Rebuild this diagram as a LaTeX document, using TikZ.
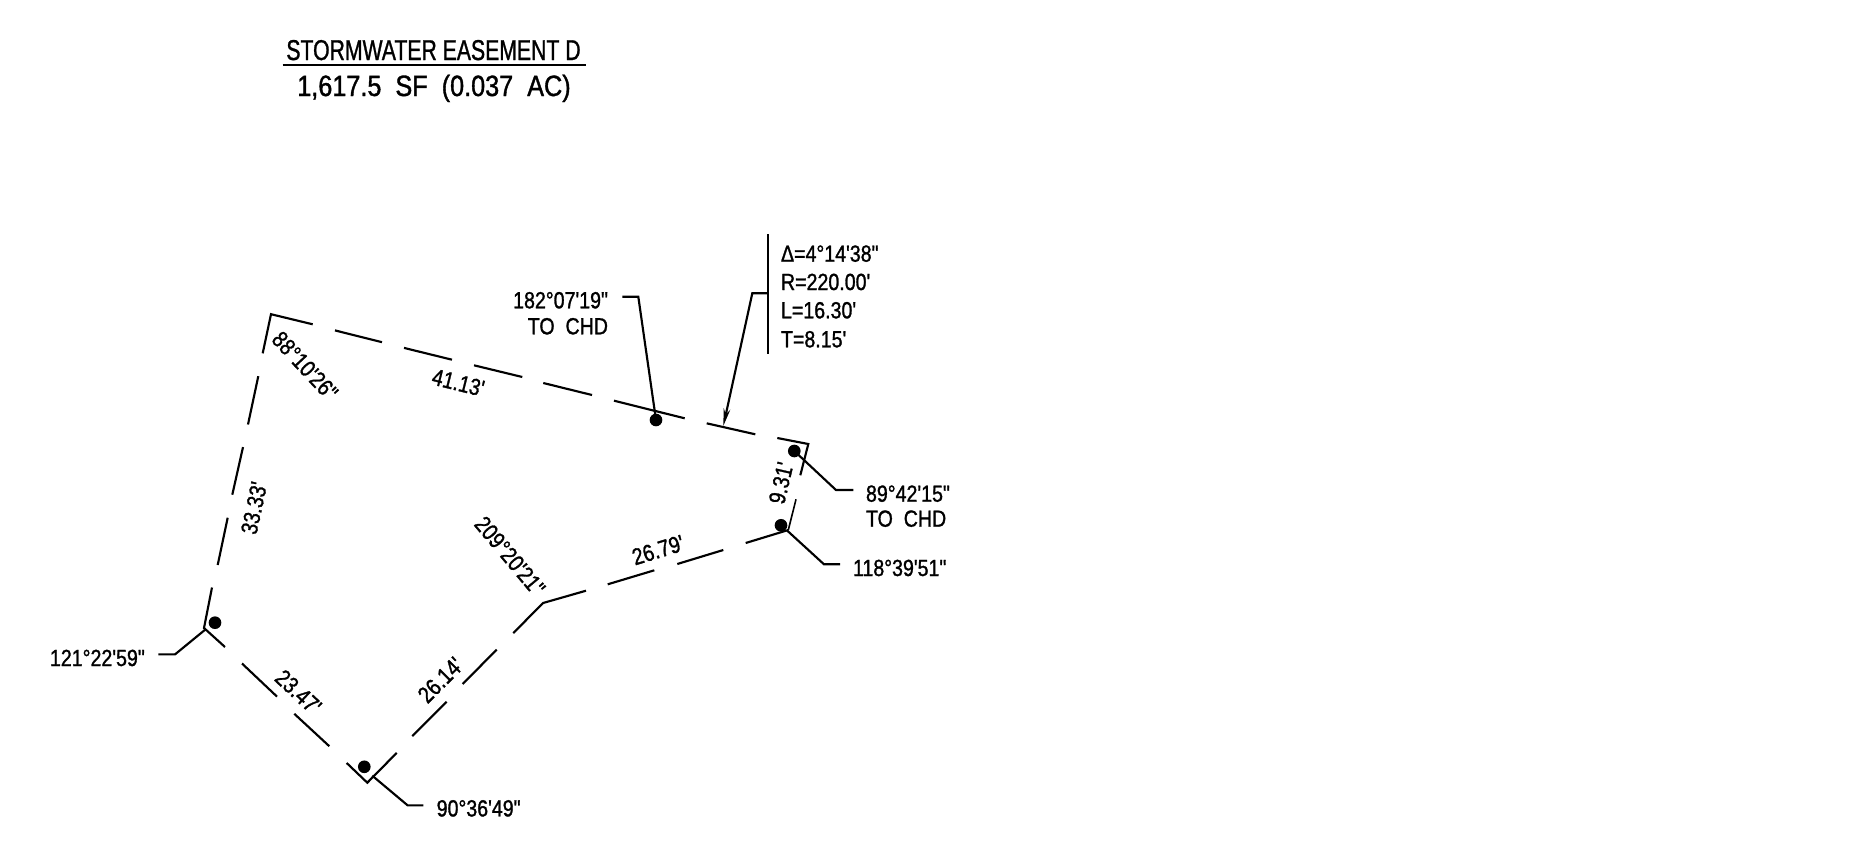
\documentclass[tikz,border=0pt]{standalone}
\usepackage{fontspec}
\usetikzlibrary{arrows.meta}
\newfontfamily\cad[FakeStretch=0.84,FakeBold=1.2]{Liberation Sans}
\newfontfamily\cadt[FakeStretch=0.74,FakeBold=1.0]{Liberation Sans}
\newfontfamily\cadb[FakeStretch=0.86,FakeBold=1.2]{Liberation Sans}
\tikzset{
  px/.style={x=0.75pt,y=-0.75pt},
  ln/.style={line width=1.6pt,black},
  lbl/.style={inner sep=0pt,outer sep=0pt,font=\cad\fontsize{17.5}{20}\selectfont,black},
  lw/.style={lbl,anchor=base west},
  lc/.style={lbl,anchor=center},
  ttl/.style={inner sep=0pt,anchor=base,font=\cadt\fontsize{21.5}{24}\selectfont},
  ttb/.style={inner sep=0pt,anchor=base,font=\cadb\fontsize{22}{24}\selectfont},
  dotn/.style={circle,fill=black,inner sep=0pt,minimum size=9.5pt}
}
\begin{document}
\begin{tikzpicture}[px]
\useasboundingbox (0,0) rectangle (1867,843);
% title
\node[ttl] (title) at (433.5,60) {STORMWATER EASEMENT D};
\node[ttb] (area) at (434,96) {1,617.5\ \ SF\ \ (0.037\ \ AC)};
\draw[line width=1.7pt] (282.7,64.7) -- (585.7,64.7);
% boundary corners
\coordinate (tl) at (271,314.2);
\coordinate (tr) at (808.3,444);
\coordinate (rb) at (788.3,530);
\coordinate (mid) at (543,603);
\coordinate (bt) at (367.3,782.7);
\coordinate (lf) at (204,628);
% top edge
\draw[ln,line join=miter] (262.7,353.3) -- (tl) -- (312.7,324.3);
\draw[ln] (335,330.4) -- (382,342.2);
\draw[ln] (404,347.9) -- (452,359.7);
\draw[ln] (474,365.3) -- (522.3,377);
\draw[ln] (543.3,383) -- (592,395);
\draw[ln] (614,400.7) -- (684.7,418.3);
\draw[ln] (706.7,423.3) -- (755.3,434.3);
\draw[ln,line join=miter] (777.3,438) -- (tr) -- (800.3,475.3);
% right edge / lower right
\draw[ln,line width=1.2pt] (796,499.3) -- (rb);
\draw[ln] (rb) -- (745.7,543);
\draw[ln] (723.3,550) -- (677.3,564);
\draw[ln] (654.3,570.3) -- (607.7,584.3);
\draw[ln,line join=miter] (586,590.7) -- (mid) -- (513.3,633.1);
\draw[ln] (496.7,649.6) -- (462.7,684);
\draw[ln] (446.7,701.7) -- (412.3,736.1);
\draw[ln,line join=miter] (396.7,752.9) -- (bt) -- (346.7,763);
\draw[ln] (329.3,746.2) -- (294.3,713.8);
\draw[ln] (277,696.6) -- (242,663.5);
\draw[ln] (225,647) -- (lf) -- (212,587.5);
\draw[ln] (217.7,565) -- (227.7,517.7);
\draw[ln] (232.3,494.7) -- (243,447.1);
\draw[ln] (248,424.5) -- (258.3,376.2);
% dots
\node[dotn] (d1) at (215,622.7) {};
\node[dotn] (d2) at (364.3,766.8) {};
\node[dotn] (d3) at (656,420) {};
\node[dotn] (d4) at (794.3,451) {};
\node[dotn] (d5) at (781,525.3) {};
% leaders
\coordinate (a1) at (175,654.4); \coordinate (a1e) at (158.3,654.4);
\draw[ln] (lf) ++(2,1) -- (a1) -- (a1e);
\coordinate (a2) at (407.7,805.4); \coordinate (a2e) at (423.3,805.4);
\draw[ln] (bt) ++(5,-7) -- (a2) -- (a2e);
\coordinate (a3) at (638.3,296.7); \coordinate (a3e) at (622.3,296.7);
\draw[ln] (d3.center) -- (a3) -- (a3e);
\coordinate (a4) at (836,490); \coordinate (a4e) at (853.3,490);
\draw[ln] (d4.center) -- (a4) -- (a4e);
\coordinate (a5) at (824,564.3); \coordinate (a5e) at (840,564.3);
\draw[ln] (787.3,530.7) -- (a5) -- (a5e);
% curve leader
\coordinate (v1) at (767.7,234); \coordinate (v2) at (767.7,354);
\coordinate (vb) at (767.7,293.3); \coordinate (vk) at (752.3,293.3);
\coordinate (vt) at (723.3,426);
\draw[ln] (v1) -- (v2);
\draw[ln,-{Stealth[length=13pt,width=5pt]}] (vb) -- (vk) -- (vt);
% labels
\node[lw] (cd) at (781,261.7) {Δ=4°14'38"};
\node[lw] (cr) at (781,290) {R=220.00'};
\node[lw] (cl) at (781,318.3) {L=16.30'};
\node[lw] (ct) at (781,347.3) {T=8.15'};
\node[lbl,anchor=base east] (l182) at (608,308.3) {182°07'19"};
\node[lbl,anchor=base east] (l182b) at (608,334.3) {TO\ \ CHD};
\node[lw] (l89) at (866,501.7) {89°42'15"};
\node[lw] (l89b) at (866,526.7) {TO\ \ CHD};
\node[lw] (l118) at (853,576) {118°39'51"};
\node[lw] (l121) at (50,666) {121°22'59"};
\node[lw] (l90) at (436.7,816.4) {90°36'49"};
\node[lc,rotate=-47] (l88) at (305,365.8) {88°10'26"};
\node[lc,rotate=-14] (e1) at (458.3,382.7) {41.13'};
\node[lc,rotate=78] (e2) at (254,508) {33.33'};
\node[lc,rotate=-43] (e3) at (298.3,692) {23.47'};
\node[lc,rotate=45] (e4) at (440.5,680) {26.14'};
\node[lc,rotate=-50] (l209) at (510,556) {209°20'21"};
\node[lc,rotate=17] (e5) at (658,550) {26.79'};
\node[lc,rotate=77] (e6) at (781,483) {9.31'};
\end{tikzpicture}
\end{document}
